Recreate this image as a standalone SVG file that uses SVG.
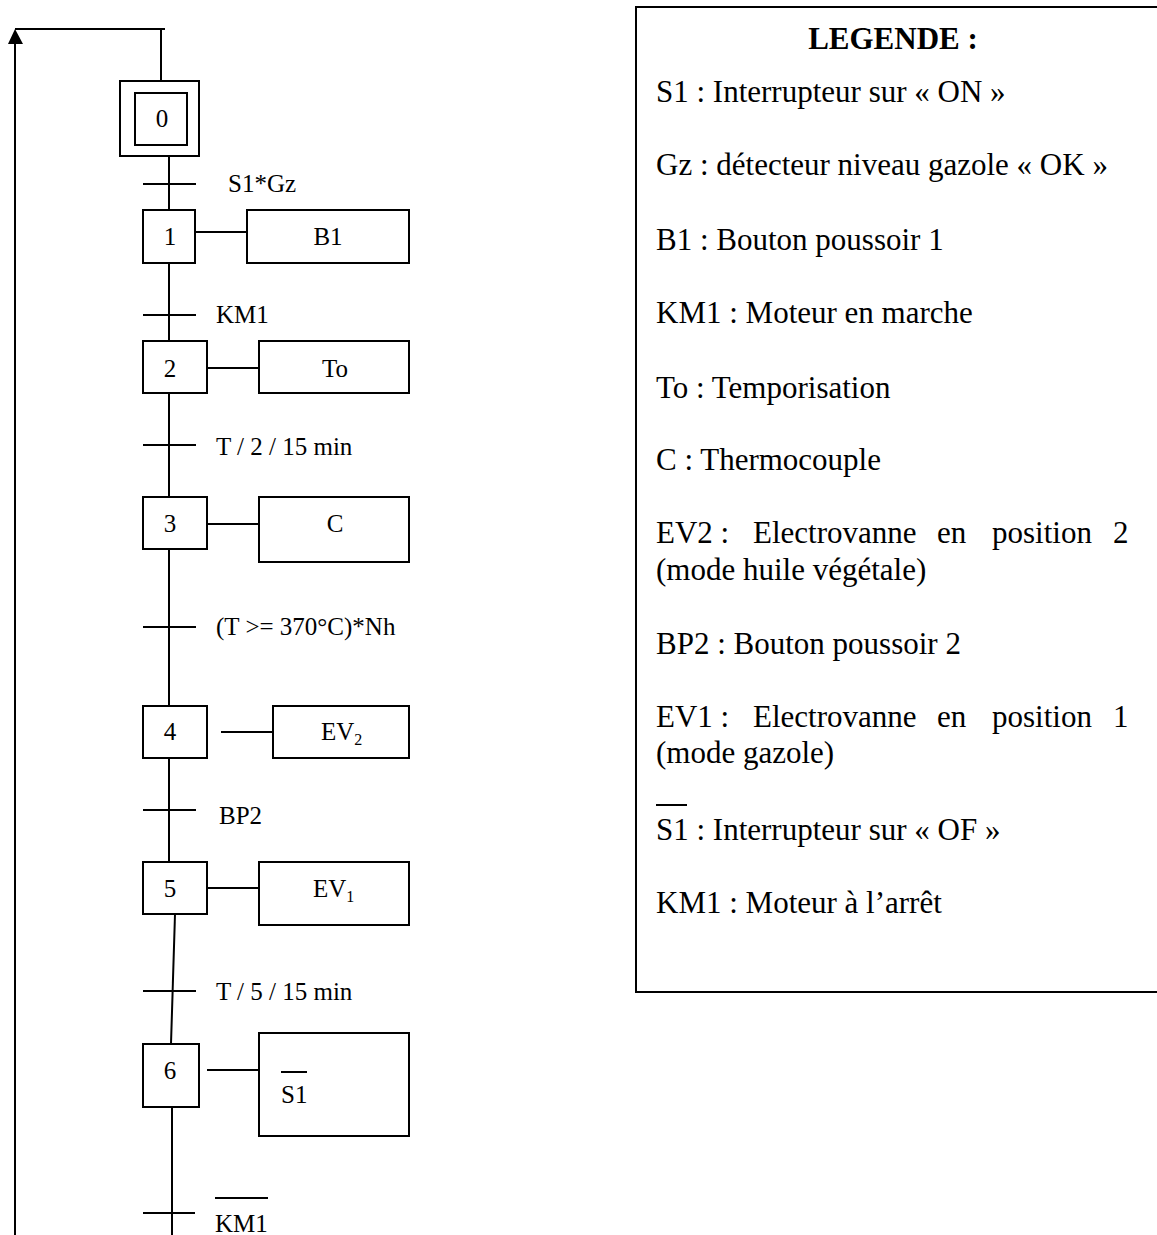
<svg xmlns="http://www.w3.org/2000/svg" width="1157" height="1235" viewBox="0 0 1157 1235">
<style>
.ln{stroke:#000;stroke-width:2;fill:none}
.bx{stroke:#000;stroke-width:2;fill:#fff}
.t{font-family:"Liberation Serif","Times New Roman",serif;font-size:25px;fill:#000}
.c{text-anchor:middle}
.lg{font-family:"Liberation Serif","Times New Roman",serif;font-size:31px;fill:#000}
.b{font-weight:bold}
</style>
<defs>
<marker id="arr" viewBox="0 0 10 10" refX="9" refY="5" markerWidth="8" markerHeight="8" markerUnits="userSpaceOnUse" orient="auto">
<path d="M0,0 L10,5 L0,10 Z" fill="#000"/>
</marker>
</defs>
<rect width="1157" height="1235" fill="#fff"/>
<g id="connectors">
<line class="ln" x1="15" y1="1235" x2="15" y2="44"/>
<polygon points="15,29 8,44 23,44" fill="#000"/>
<polyline class="ln" points="15,29 165,29"/>
<line class="ln" x1="161" y1="29" x2="161" y2="81"/>
<line class="ln" x1="169" y1="157" x2="169" y2="210"/>
<line class="ln" x1="143" y1="184" x2="196" y2="184"/>
<line class="ln" x1="169" y1="263" x2="169" y2="341"/>
<line class="ln" x1="143" y1="315" x2="196" y2="315"/>
<line class="ln" x1="169" y1="393" x2="169" y2="497"/>
<line class="ln" x1="143" y1="445" x2="196" y2="445"/>
<line class="ln" x1="169" y1="549" x2="169" y2="706"/>
<line class="ln" x1="143" y1="627" x2="196" y2="627"/>
<line class="ln" x1="169" y1="758" x2="169" y2="862"/>
<line class="ln" x1="143" y1="810" x2="196" y2="810"/>
<line class="ln" x1="175" y1="914" x2="171" y2="1044"/>
<line class="ln" x1="143" y1="991" x2="196" y2="991"/>
<line class="ln" x1="172" y1="1107" x2="172" y2="1235"/>
<line class="ln" x1="143" y1="1213" x2="195" y2="1213"/>
<line class="ln" x1="195" y1="232" x2="247" y2="232"/>
<line class="ln" x1="207" y1="368" x2="259" y2="368"/>
<line class="ln" x1="207" y1="524" x2="259" y2="524"/>
<line class="ln" x1="221" y1="732" x2="273" y2="732"/>
<line class="ln" x1="207" y1="888" x2="259" y2="888"/>
<line class="ln" x1="207" y1="1070" x2="259" y2="1070"/>
</g>
<g id="labels">
<text class="t" x="228" y="192">S1*Gz</text>
<text class="t" x="216" y="323">KM1</text>
<text class="t" x="216" y="455">T / 2 / 15 min</text>
<text class="t" x="216" y="635">(T &gt;= 370°C)*Nh</text>
<text class="t" x="219" y="824">BP2</text>
<text class="t" x="216" y="1000">T / 5 / 15 min</text>
<text class="t" x="215" y="1232">KM1</text>
<line class="ln" x1="215" y1="1198" x2="268" y2="1198"/>
</g>
<g id="step0">
<rect class="bx" x="120" y="81" width="79" height="75"/>
<rect class="bx" x="135" y="93" width="52" height="52"/>
<text class="t c" x="162" y="127">0</text>
</g>
<g id="step1">
<rect class="bx" x="143" y="210" width="52" height="53"/>
<text class="t c" x="170" y="245">1</text>
</g>
<g id="action1">
<rect class="bx" x="247" y="210" width="162" height="53"/>
<text class="t c" x="328" y="245">B1</text>
</g>
<g id="step2">
<rect class="bx" x="143" y="341" width="64" height="52"/>
<text class="t c" x="170" y="377">2</text>
</g>
<g id="action2">
<rect class="bx" x="259" y="341" width="150" height="52"/>
<text class="t c" x="335" y="377">To</text>
</g>
<g id="step3">
<rect class="bx" x="143" y="497" width="64" height="52"/>
<text class="t c" x="170" y="532">3</text>
</g>
<g id="action3">
<rect class="bx" x="259" y="497" width="150" height="65"/>
<text class="t c" x="335" y="532">C</text>
</g>
<g id="step4">
<rect class="bx" x="143" y="706" width="64" height="52"/>
<text class="t c" x="170" y="740">4</text>
</g>
<g id="action4">
<rect class="bx" x="273" y="706" width="136" height="52"/>
<text class="t" x="321" y="740">EV<tspan font-size="16" dy="5">2</tspan></text>
</g>
<g id="step5">
<rect class="bx" x="143" y="862" width="64" height="52"/>
<text class="t c" x="170" y="897">5</text>
</g>
<g id="action5">
<rect class="bx" x="259" y="862" width="150" height="63"/>
<text class="t" x="313" y="897">EV<tspan font-size="16" dy="5">1</tspan></text>
</g>
<g id="step6">
<rect class="bx" x="143" y="1044" width="56" height="63"/>
<text class="t c" x="170" y="1079">6</text>
</g>
<g id="action6">
<rect class="bx" x="259" y="1033" width="150" height="103"/>
<text class="t" x="281" y="1103">S1</text>
<line class="ln" x1="281" y1="1072" x2="307" y2="1072"/>
</g>
<g id="legend">
<rect class="ln" x="636" y="7" width="530" height="985"/>
<text class="lg b c" x="893" y="49">LEGENDE :</text>
<text class="lg" x="656" y="102">S1 : Interrupteur sur « ON »</text>
<text class="lg" x="656" y="175">Gz : détecteur niveau gazole « OK »</text>
<text class="lg" x="656" y="250">B1 : Bouton poussoir 1</text>
<text class="lg" x="656" y="323">KM1 : Moteur en marche</text>
<text class="lg" x="656" y="398">To : Temporisation</text>
<text class="lg" x="656" y="470">C : Thermocouple</text>
<text class="lg" y="543"><tspan x="656">EV2 :</tspan><tspan x="753">Electrovanne</tspan><tspan x="937">en</tspan><tspan x="992">position</tspan><tspan x="1113">2</tspan></text>
<text class="lg" x="656" y="580">(mode huile végétale)</text>
<text class="lg" x="656" y="654">BP2 : Bouton poussoir 2</text>
<text class="lg" y="727"><tspan x="656">EV1 :</tspan><tspan x="753">Electrovanne</tspan><tspan x="937">en</tspan><tspan x="992">position</tspan><tspan x="1113">1</tspan></text>
<text class="lg" x="656" y="763">(mode gazole)</text>
<text class="lg" x="656" y="840">S1 : Interrupteur sur « OF »</text>
<line class="ln" x1="656" y1="805" x2="687" y2="805"/>
<text class="lg" x="656" y="913">KM1 : Moteur à l’arrêt</text>
</g>
</svg>
